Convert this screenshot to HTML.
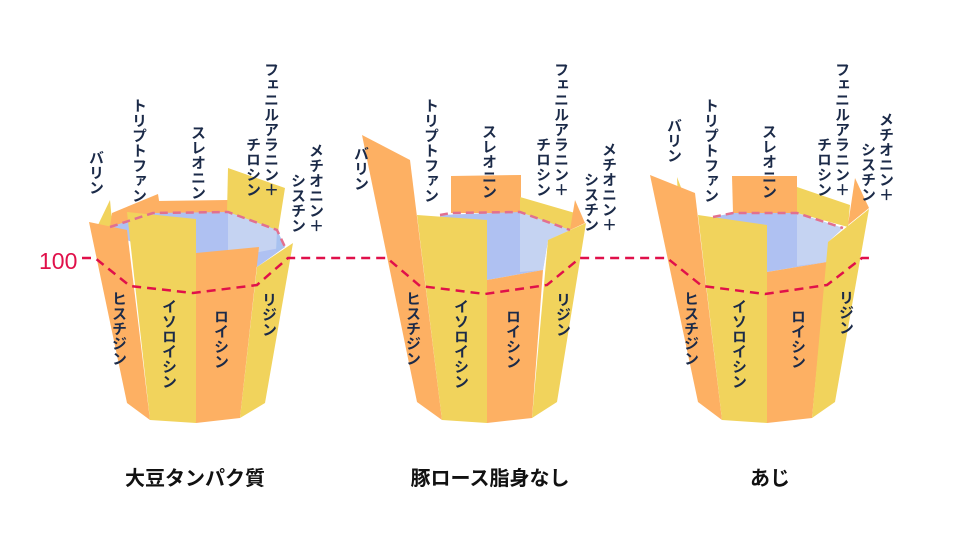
<!DOCTYPE html>
<html><head><meta charset="utf-8"><style>
body{margin:0;width:970px;height:548px;background:#fff;position:relative;overflow:hidden;font-family:"Liberation Sans","Noto Sans CJK JP",sans-serif}
.l{position:absolute;writing-mode:vertical-rl;font-size:15px;font-weight:700;color:#1b2a48;line-height:18px;white-space:nowrap;text-align:end}
.t{position:absolute;top:462px;font-size:20px;font-weight:700;color:#111;transform:translateX(-50%);white-space:nowrap}
svg{position:absolute;left:0;top:0}
</style></head><body>
<svg width="970" height="548">
<g stroke="none">
<polygon points="98,225 110,200 113,232" fill="#F1D35C"/>
<polygon points="112,213 158,194 160,207 150,215 110,227" fill="#FDB063"/>
<polygon points="156,201 228,200 228,213 153,213" fill="#FDB063"/>
<polygon points="228,168 285,188 278,232 227,213" fill="#F1D35C"/>
<polygon points="110,227 153,213 228,212 277,230 285,247 257,267 196,270 127,240" fill="#AFC1F2"/>
<polygon points="228,212 277,230 285,247 259,252 228,258" fill="#C5D3F2"/>
<polygon points="277,230 285,247 276,252" fill="#A8C2F0"/>
<polygon points="89,222 127,230 150,420 127,403" fill="#FDB063"/>
<polygon points="127,212 196,219 196,423 150,420" fill="#F1D35C"/>
<polygon points="196,253 259,247 240,418 196,423" fill="#FDB063"/>
<polygon points="257,267 293,243 265,403 240,418" fill="#F1D35C"/>
<polygon points="451,176 521,175 521,213 451,213" fill="#FDB063"/>
<polygon points="520,197 575,213 570,230 520,213" fill="#F1D35C"/>
<polygon points="575,200 585,223 570,230" fill="#FDB063"/>
<polygon points="440,215 520,212 570,230 548,240 543,270 487,280 440,240" fill="#AFC1F2"/>
<polygon points="520,212 570,230 548,240 543,270 520,272" fill="#C5D3F2"/>
<polygon points="362,135 410,160 442,420 417,402" fill="#FDB063"/>
<polygon points="417,215 487,220 487,423 442,420" fill="#F1D35C"/>
<polygon points="487,280 543,270 532,418 487,423" fill="#FDB063"/>
<polygon points="548,240 586,223 557,402 532,418" fill="#F1D35C"/>
<polygon points="677,177 682,190 678,200" fill="#F1D35C"/>
<polygon points="732,176 797,176 797,213 733,213" fill="#FDB063"/>
<polygon points="797,187 850,205 848,227 797,213" fill="#F1D35C"/>
<polygon points="855,178 869,208 848,225" fill="#FDB063"/>
<polygon points="713,217 733,213 797,213 843,228 828,242 827,262 767,272 713,240" fill="#AFC1F2"/>
<polygon points="797,213 843,228 828,242 827,262 797,266" fill="#C5D3F2"/>
<polygon points="650,175 695,193 722,420 698,402" fill="#FDB063"/>
<polygon points="698,215 767,225 767,423 722,420" fill="#F1D35C"/>
<polygon points="767,272 827,262 812,418 767,423" fill="#FDB063"/>
<polygon points="828,242 869,209 835,402 812,418" fill="#F1D35C"/>
</g>
<g fill="none" stroke="#E2708F" stroke-width="2.5" stroke-dasharray="8,5">
<polyline points="110,227 153,213 228,212 277,230 285,247"/>
<polyline points="440,215 451,213 520,212 570,230"/>
<polyline points="713,217 733,213 797,213 843,228"/>
</g>
<polyline fill="none" stroke="#E0104A" stroke-width="2.5" stroke-dasharray="9,6"
points="82,258 95,258 130,286 193,293 257,285 288,258 387,258 420,286 485,294 547,285 580,258 667,258 702,286 765,294 827,285 862,258 874,258"/>
<text x="39" y="269" font-family="Liberation Sans, sans-serif" font-size="23" fill="#E0104A">100</text>
</svg>

<div class="l" style="left:86px;top:150px">バリン</div>
<div class="l" style="left:129px;top:98px">トリプトファン</div>
<div class="l" style="left:188px;top:125px">スレオニン</div>
<div class="l" style="left:243px;top:62px">フェニルアラニン＋<br>チロシン</div>
<div class="l" style="left:288px;top:143px">メチオニン＋<br>シスチン</div>
<div class="l" style="left:109px;top:291px">ヒスチジン</div>
<div class="l" style="left:159px;top:299px">イソロイシン</div>
<div class="l" style="left:211px;top:309px">ロイシン</div>
<div class="l" style="left:259px;top:292px">リジン</div>
<div class="l" style="left:351px;top:146px">バリン</div>
<div class="l" style="left:421px;top:98px">トリプトファン</div>
<div class="l" style="left:479px;top:124px">スレオニン</div>
<div class="l" style="left:533px;top:62px">フェニルアラニン＋<br>チロシン</div>
<div class="l" style="left:581px;top:142px">メチオニン＋<br>シスチン</div>
<div class="l" style="left:403px;top:291px">ヒスチジン</div>
<div class="l" style="left:451px;top:299px">イソロイシン</div>
<div class="l" style="left:503px;top:309px">ロイシン</div>
<div class="l" style="left:553px;top:292px">リジン</div>
<div class="l" style="left:664px;top:118px">バリン</div>
<div class="l" style="left:701px;top:98px">トリプトファン</div>
<div class="l" style="left:759px;top:124px">スレオニン</div>
<div class="l" style="left:814px;top:62px">フェニルアラニン＋<br>チロシン</div>
<div class="l" style="left:858px;top:112px">メチオニン＋<br>シスチン</div>
<div class="l" style="left:681px;top:291px">ヒスチジン</div>
<div class="l" style="left:729px;top:299px">イソロイシン</div>
<div class="l" style="left:788px;top:309px">ロイシン</div>
<div class="l" style="left:836px;top:290px">リジン</div>

<div class="t" style="left:195px">大豆タンパク質</div>
<div class="t" style="left:490px">豚ロース脂身なし</div>
<div class="t" style="left:770px">あじ</div>
</body></html>
